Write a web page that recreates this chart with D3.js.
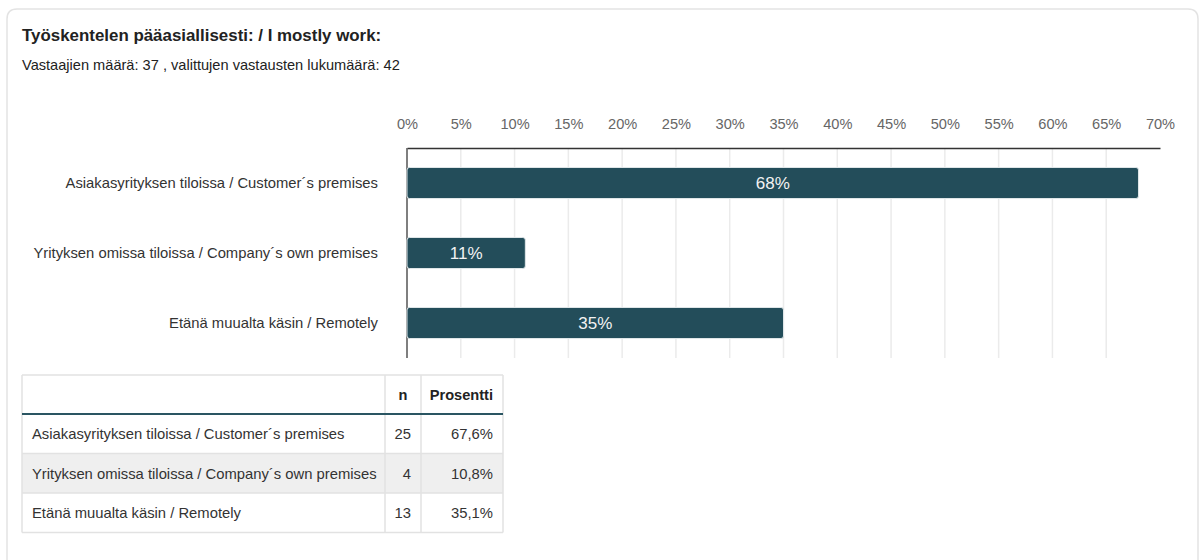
<!DOCTYPE html>
<html>
<head>
<meta charset="utf-8">
<script src="https://cdn.jsdelivr.net/npm/d3@7"></script>
<style>
  html, body { margin: 0; padding: 0; background: #fff; }
  svg { display: block; font-family: "Liberation Sans", Arial, sans-serif; }
</style>
</head>
<body>
<svg id="chart" width="1200" height="560"></svg>
<script>
// Survey question: where respondents mostly work
const title = "Työskentelen pääasiallisesti: / I mostly work:";
const subtitle = "Vastaajien määrä: 37 , valittujen vastausten lukumäärä: 42";

const categories = [
  "Asiakasyrityksen tiloissa / Customer´s premises",
  "Yrityksen omissa tiloissa / Company´s own premises",
  "Etänä muualta käsin / Remotely"
];
// rounded shares shown on the bars (%)
const barValues = [68, 11, 35];
// frequency table
const counts = [25, 4, 13];
const percents = ["67,6%", "10,8%", "35,1%"];
const tableHeaders = ["", "n", "Prosentti"];
const xTicks = [0, 5, 10, 15, 20, 25, 30, 35, 40, 45, 50, 55, 60, 65, 70];

const FONT = "Liberation Sans, Arial, sans-serif";
const svg = d3.select("#chart");

// card outline
svg.append("path")
  .attr("d", "M7,560 V19 Q7,9 17,9 H1188 Q1198,9 1198,19 V560")
  .attr("fill", "none")
  .attr("stroke", "#e3e3e3")
  .attr("stroke-width", 1.5);

svg.append("text")
  .attr("x", 22).attr("y", 41)
  .attr("font-size", 16.9).attr("font-weight", "bold").attr("fill", "#222")
  .text(title);

svg.append("text")
  .attr("x", 22).attr("y", 70)
  .attr("font-size", 14.6).attr("fill", "#222")
  .text(subtitle);

// bar chart
const plot = { left: 407, right: 1160, top: 148, bottom: 358 };

const x = d3.scaleLinear().domain([0, 70]).range([plot.left, plot.right]);
const y = d3.scaleBand().domain(categories).range([plot.top, plot.bottom]).paddingInner(0.557).paddingOuter(0.2785);

const g = svg.append("g");

// vertical gridlines
g.selectAll("line.grid")
  .data(xTicks.filter(t => t > 0 && t < 70))
  .join("line")
  .attr("class", "grid")
  .attr("x1", d => x(d)).attr("x2", d => x(d))
  .attr("y1", plot.top).attr("y2", plot.bottom)
  .attr("stroke", "#ebebeb").attr("stroke-width", 1.5);

// top axis with percent labels
const xAxis = d3.axisTop(x).tickValues(xTicks).tickSize(0).tickPadding(0).tickFormat(d => d + "%");
const axG = g.append("g").attr("transform", `translate(0,${plot.top})`).call(xAxis);
axG.select(".domain").attr("stroke", "#333").attr("stroke-width", 1.5);
axG.selectAll("text")
  .attr("y", -19)
  .attr("font-size", 14.6).attr("fill", "#666")
  .attr("font-family", FONT);

// left axis line
g.append("line")
  .attr("x1", plot.left).attr("x2", plot.left)
  .attr("y1", plot.top).attr("y2", plot.bottom)
  .attr("stroke", "#555").attr("stroke-width", 1.5);

// category labels
const yAxis = d3.axisLeft(y).tickSize(0).tickPadding(29);
const yG = g.append("g").attr("transform", `translate(${plot.left},0)`).call(yAxis);
yG.select(".domain").remove();
yG.selectAll("text")
  .attr("font-size", 14.8).attr("fill", "#333")
  .attr("font-family", FONT);

const data = categories.map((c, i) => ({ c, v: barValues[i] }));

g.selectAll("rect.bar")
  .data(data)
  .join("rect")
  .attr("class", "bar")
  .attr("x", x(0))
  .attr("y", d => y(d.c))
  .attr("width", d => x(d.v) - x(0))
  .attr("height", y.bandwidth())
  .attr("rx", 2.5)
  .attr("fill", "#234d5a")
  .attr("stroke", "#dfe6e8").attr("stroke-width", 1);

g.selectAll("text.val")
  .data(data)
  .join("text")
  .attr("class", "val")
  .attr("x", d => (x(0) + x(d.v)) / 2)
  .attr("y", d => y(d.c) + y.bandwidth() / 2)
  .attr("dy", "0.36em")
  .attr("text-anchor", "middle")
  .attr("font-size", 17).attr("fill", "#f2f2f2")
  .text(d => d.v + "%");

// frequency table
const tbl = { left: 22, right: 503, top: 375, headerBottom: 414, rowH: 39.5 };
const colX = [22, 385, 421, 503];
const tg = svg.append("g");
const rowsData = categories.map((c, i) => [c, counts[i], percents[i]]);
const tblBottom = tbl.headerBottom + rowsData.length * tbl.rowH;

// striped middle row
tg.selectAll("rect.row")
  .data(rowsData)
  .join("rect")
  .attr("class", "row")
  .attr("x", tbl.left).attr("width", tbl.right - tbl.left)
  .attr("y", (d, i) => tbl.headerBottom + i * tbl.rowH)
  .attr("height", tbl.rowH)
  .attr("fill", (d, i) => i % 2 === 1 ? "#efefef" : "#fff");

// horizontal rules
const hLines = [tbl.top].concat(rowsData.map((d, i) => tbl.headerBottom + (i + 1) * tbl.rowH));
tg.selectAll("line.h")
  .data(hLines)
  .join("line")
  .attr("class", "h")
  .attr("x1", tbl.left).attr("x2", tbl.right)
  .attr("y1", d => d).attr("y2", d => d)
  .attr("stroke", "#e2e2e2").attr("stroke-width", 1.5);

// vertical rules
tg.selectAll("line.v")
  .data(colX)
  .join("line")
  .attr("class", "v")
  .attr("x1", d => d).attr("x2", d => d)
  .attr("y1", tbl.top).attr("y2", tblBottom)
  .attr("stroke", "#e2e2e2").attr("stroke-width", 1.5);

// header underline
tg.append("line")
  .attr("x1", tbl.left).attr("x2", tbl.right)
  .attr("y1", tbl.headerBottom).attr("y2", tbl.headerBottom)
  .attr("stroke", "#2a5562").attr("stroke-width", 2);

// header text
tg.append("text")
  .attr("x", (colX[1] + colX[2]) / 2).attr("y", 400)
  .attr("text-anchor", "middle")
  .attr("font-size", 14.6).attr("font-weight", "bold").attr("fill", "#222")
  .text(tableHeaders[1]);
tg.append("text")
  .attr("x", colX[3] - 10).attr("y", 400)
  .attr("text-anchor", "end")
  .attr("font-size", 14.6).attr("font-weight", "bold").attr("fill", "#222")
  .text(tableHeaders[2]);

const rowG = tg.selectAll("g.trow")
  .data(rowsData)
  .join("g")
  .attr("class", "trow")
  .attr("transform", (d, i) => `translate(0,${tbl.headerBottom + i * tbl.rowH + tbl.rowH / 2})`);

rowG.append("text")
  .attr("x", colX[0] + 10).attr("dy", "0.36em")
  .attr("font-size", 14.8).attr("fill", "#333")
  .text(d => d[0]);
rowG.append("text")
  .attr("x", colX[2] - 10).attr("dy", "0.36em")
  .attr("text-anchor", "end")
  .attr("font-size", 14.8).attr("fill", "#333")
  .text(d => d[1]);
rowG.append("text")
  .attr("x", colX[3] - 10).attr("dy", "0.36em")
  .attr("text-anchor", "end")
  .attr("font-size", 14.8).attr("fill", "#333")
  .text(d => d[2]);
</script>
</body>
</html>
